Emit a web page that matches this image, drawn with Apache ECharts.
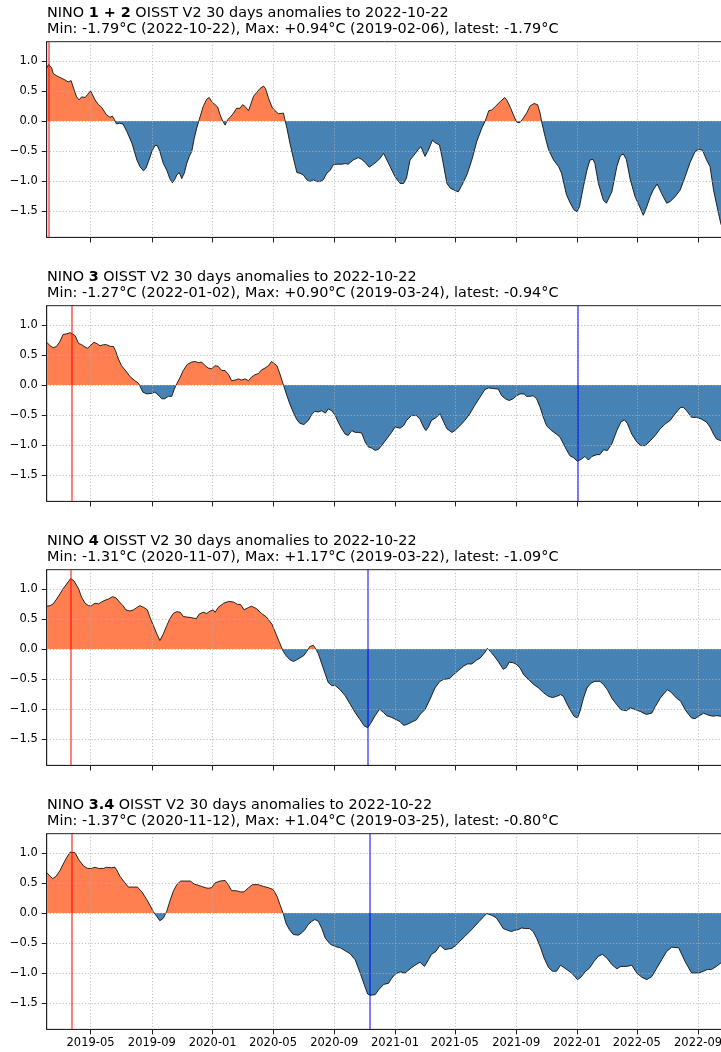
<!DOCTYPE html>
<html><head><meta charset="utf-8">
<script src="https://cdn.jsdelivr.net/npm/echarts@6/dist/echarts.min.js"></script>
<style>html,body{margin:0;padding:0;background:#fff}#c{width:721px;height:1052px}</style>
</head><body><div id="c"></div>
<script>
const xTicks = ['2019-05-01','2019-09-01','2020-01-01','2020-05-01','2020-09-01','2021-01-01','2021-05-01','2021-09-01','2022-01-01','2022-05-01','2022-09-01'];
const yTicks = [-1.5,-1.0,-0.5,0.0,0.5,1.0];
const xMin = '2019-02-02', xMax = '2022-10-22';
const yMin = -1.938, yMax = 1.318;

const regionNames = ['1 + 2','3','4','3.4'];
const minVals = [-1.79,-1.27,-1.31,-1.37];
const minDates = ['2022-10-22','2022-01-02','2020-11-07','2020-11-12'];
const maxVals = [0.94,0.90,1.17,1.04];
const maxDates = ['2019-02-06','2019-03-24','2019-03-22','2019-03-25'];
const latestVals = [-1.79,-0.94,-1.09,-0.80];

const nino12 = [['2019-02-02',0.88],['2019-02-06',0.94],['2019-02-09',0.93],['2019-02-12',0.88],['2019-02-15',0.79],['2019-02-22',0.75],['2019-03-04',0.71],['2019-03-11',0.68],['2019-03-17',0.65],['2019-03-21',0.68],['2019-03-23',0.67],['2019-03-28',0.54],['2019-04-03',0.40],['2019-04-08',0.35],['2019-04-13',0.40],['2019-04-20',0.39],['2019-04-25',0.44],['2019-05-01',0.50],['2019-05-05',0.47],['2019-05-10',0.35],['2019-05-17',0.27],['2019-05-23',0.23],['2019-06-02',0.10],['2019-06-09',0.06],['2019-06-14',0.08],['2019-06-18',0.02],['2019-06-22',-0.05],['2019-06-28',-0.04],['2019-07-05',-0.05],['2019-07-13',-0.18],['2019-07-23',-0.37],['2019-08-02',-0.65],['2019-08-08',-0.76],['2019-08-15',-0.83],['2019-08-20',-0.79],['2019-08-25',-0.68],['2019-09-01',-0.51],['2019-09-07',-0.41],['2019-09-12',-0.41],['2019-09-17',-0.51],['2019-09-24',-0.71],['2019-10-01',-0.82],['2019-10-07',-0.96],['2019-10-12',-1.03],['2019-10-18',-0.96],['2019-10-21',-0.90],['2019-10-26',-0.86],['2019-10-31',-0.96],['2019-11-05',-0.87],['2019-11-10',-0.71],['2019-11-15',-0.59],['2019-11-20',-0.51],['2019-11-25',-0.29],['2019-11-30',-0.12],['2019-12-05',0.02],['2019-12-13',0.24],['2019-12-20',0.36],['2019-12-25',0.39],['2019-12-30',0.32],['2020-01-06',0.27],['2020-01-11',0.23],['2020-01-16',0.10],['2020-01-21',0.00],['2020-01-26',-0.07],['2020-01-31',0.02],['2020-02-05',0.06],['2020-02-12',0.13],['2020-02-18',0.21],['2020-02-25',0.21],['2020-03-01',0.27],['2020-03-06',0.24],['2020-03-13',0.17],['2020-03-17',0.18],['2020-03-23',0.41],['2020-03-29',0.47],['2020-04-05',0.54],['2020-04-12',0.58],['2020-04-16',0.54],['2020-04-22',0.38],['2020-04-29',0.23],['2020-05-05',0.17],['2020-05-12',0.12],['2020-05-22',0.13],['2020-05-25',0.02],['2020-05-29',-0.12],['2020-06-04',-0.37],['2020-06-11',-0.62],['2020-06-18',-0.86],['2020-06-24',-0.87],['2020-07-01',-0.90],['2020-07-08',-0.98],['2020-07-14',-1.01],['2020-07-21',-0.98],['2020-07-28',-1.01],['2020-08-03',-1.01],['2020-08-10',-0.98],['2020-08-17',-0.87],['2020-08-24',-0.82],['2020-08-30',-0.73],['2020-09-07',-0.72],['2020-09-16',-0.72],['2020-09-23',-0.71],['2020-09-29',-0.72],['2020-10-09',-0.65],['2020-10-19',-0.61],['2020-10-26',-0.64],['2020-11-02',-0.69],['2020-11-10',-0.77],['2020-11-17',-0.73],['2020-11-25',-0.68],['2020-12-02',-0.62],['2020-12-09',-0.54],['2020-12-12',-0.59],['2020-12-22',-0.76],['2021-01-01',-0.93],['2021-01-11',-1.04],['2021-01-18',-1.04],['2021-01-24',-0.95],['2021-01-31',-0.65],['2021-02-07',-0.58],['2021-02-17',-0.47],['2021-02-22',-0.43],['2021-02-26',-0.51],['2021-03-02',-0.59],['2021-03-09',-0.48],['2021-03-17',-0.32],['2021-03-22',-0.36],['2021-03-31',-0.40],['2021-04-05',-0.59],['2021-04-15',-1.04],['2021-04-22',-1.12],['2021-05-02',-1.16],['2021-05-08',-1.18],['2021-05-15',-1.07],['2021-05-25',-0.90],['2021-06-04',-0.65],['2021-06-14',-0.34],['2021-06-24',-0.12],['2021-07-01',0.00],['2021-07-08',0.17],['2021-07-14',0.18],['2021-07-21',0.24],['2021-07-31',0.32],['2021-08-09',0.39],['2021-08-13',0.35],['2021-08-20',0.23],['2021-08-28',0.07],['2021-09-02',-0.02],['2021-09-08',-0.03],['2021-09-14',0.03],['2021-09-22',0.13],['2021-09-29',0.25],['2021-10-07',0.29],['2021-10-14',0.27],['2021-10-19',0.13],['2021-10-22',-0.01],['2021-10-29',-0.26],['2021-11-05',-0.48],['2021-11-15',-0.65],['2021-11-25',-0.76],['2021-12-01',-0.87],['2021-12-11',-1.23],['2021-12-18',-1.36],['2021-12-26',-1.48],['2022-01-01',-1.51],['2022-01-06',-1.43],['2022-01-14',-1.09],['2022-01-21',-0.82],['2022-01-27',-0.65],['2022-02-02',-0.64],['2022-02-06',-0.71],['2022-02-13',-1.04],['2022-02-23',-1.32],['2022-03-01',-1.37],['2022-03-05',-1.34],['2022-03-12',-1.18],['2022-03-22',-0.76],['2022-03-29',-0.58],['2022-04-04',-0.55],['2022-04-10',-0.64],['2022-04-18',-0.98],['2022-04-28',-1.27],['2022-05-08',-1.45],['2022-05-14',-1.57],['2022-05-21',-1.43],['2022-05-28',-1.26],['2022-06-03',-1.15],['2022-06-11',-1.05],['2022-06-20',-1.21],['2022-06-30',-1.37],['2022-07-07',-1.34],['2022-07-17',-1.26],['2022-07-27',-1.15],['2022-08-06',-0.93],['2022-08-16',-0.69],['2022-08-26',-0.51],['2022-09-02',-0.47],['2022-09-10',-0.49],['2022-09-18',-0.65],['2022-09-25',-0.76],['2022-10-02',-1.15],['2022-10-12',-1.54],['2022-10-17',-1.72],['2022-10-22',-1.79]];

const nino3 = [['2019-02-02',0.71],['2019-02-09',0.65],['2019-02-15',0.62],['2019-02-22',0.64],['2019-03-01',0.73],['2019-03-07',0.84],['2019-03-14',0.85],['2019-03-21',0.87],['2019-03-24',0.90],['2019-03-31',0.82],['2019-04-07',0.69],['2019-04-13',0.67],['2019-04-20',0.63],['2019-04-25',0.61],['2019-04-30',0.65],['2019-05-08',0.71],['2019-05-15',0.68],['2019-05-20',0.65],['2019-05-27',0.67],['2019-06-02',0.67],['2019-06-10',0.64],['2019-06-16',0.64],['2019-06-20',0.57],['2019-06-26',0.43],['2019-07-02',0.32],['2019-07-11',0.23],['2019-07-19',0.14],['2019-07-29',0.07],['2019-08-05',0.03],['2019-08-08',0.00],['2019-08-14',-0.12],['2019-08-22',-0.15],['2019-09-01',-0.14],['2019-09-07',-0.12],['2019-09-14',-0.17],['2019-09-21',-0.23],['2019-09-27',-0.23],['2019-10-04',-0.19],['2019-10-11',-0.19],['2019-10-16',-0.07],['2019-10-21',0.02],['2019-10-28',0.13],['2019-11-03',0.24],['2019-11-11',0.34],['2019-11-20',0.38],['2019-11-27',0.39],['2019-12-03',0.37],['2019-12-10',0.38],['2019-12-17',0.32],['2019-12-23',0.28],['2019-12-30',0.27],['2020-01-06',0.32],['2020-01-12',0.31],['2020-01-19',0.24],['2020-01-26',0.24],['2020-02-02',0.17],['2020-02-08',0.07],['2020-02-15',0.08],['2020-02-22',0.10],['2020-02-28',0.08],['2020-03-06',0.10],['2020-03-13',0.07],['2020-03-19',0.13],['2020-03-26',0.17],['2020-04-02',0.19],['2020-04-08',0.25],['2020-04-15',0.28],['2020-04-22',0.32],['2020-04-28',0.39],['2020-05-02',0.39],['2020-05-09',0.32],['2020-05-15',0.18],['2020-05-22',0.00],['2020-05-29',-0.18],['2020-06-04',-0.32],['2020-06-11',-0.46],['2020-06-18',-0.58],['2020-06-24',-0.64],['2020-07-02',-0.66],['2020-07-11',-0.59],['2020-07-18',-0.49],['2020-07-24',-0.44],['2020-07-31',-0.45],['2020-08-07',-0.43],['2020-08-14',-0.47],['2020-08-20',-0.40],['2020-08-27',-0.43],['2020-09-03',-0.51],['2020-09-09',-0.62],['2020-09-16',-0.73],['2020-09-23',-0.82],['2020-09-29',-0.84],['2020-10-06',-0.76],['2020-10-13',-0.79],['2020-10-19',-0.79],['2020-10-26',-0.80],['2020-11-02',-0.95],['2020-11-08',-1.03],['2020-11-15',-1.05],['2020-11-22',-1.09],['2020-11-29',-1.07],['2020-12-05',-1.01],['2020-12-15',-0.90],['2020-12-25',-0.79],['2021-01-01',-0.70],['2021-01-11',-0.72],['2021-01-18',-0.68],['2021-01-24',-0.59],['2021-02-03',-0.51],['2021-02-13',-0.51],['2021-02-20',-0.57],['2021-02-27',-0.70],['2021-03-04',-0.76],['2021-03-09',-0.70],['2021-03-15',-0.59],['2021-03-25',-0.54],['2021-04-01',-0.48],['2021-04-07',-0.59],['2021-04-15',-0.73],['2021-04-25',-0.79],['2021-05-01',-0.76],['2021-05-11',-0.68],['2021-05-21',-0.59],['2021-05-31',-0.48],['2021-06-10',-0.34],['2021-06-20',-0.21],['2021-06-30',-0.08],['2021-07-07',-0.05],['2021-07-17',-0.06],['2021-07-27',-0.07],['2021-08-03',-0.18],['2021-08-10',-0.23],['2021-08-18',-0.26],['2021-08-26',-0.23],['2021-09-02',-0.18],['2021-09-09',-0.15],['2021-09-17',-0.15],['2021-09-22',-0.19],['2021-09-29',-0.19],['2021-10-05',-0.18],['2021-10-12',-0.23],['2021-10-19',-0.37],['2021-10-26',-0.55],['2021-11-01',-0.68],['2021-11-11',-0.76],['2021-11-21',-0.82],['2021-11-28',-0.87],['2021-12-03',-0.95],['2021-12-11',-1.08],['2021-12-18',-1.18],['2021-12-25',-1.21],['2022-01-02',-1.27],['2022-01-11',-1.23],['2022-01-17',-1.19],['2022-01-24',-1.25],['2022-01-31',-1.19],['2022-02-10',-1.16],['2022-02-16',-1.16],['2022-02-23',-1.08],['2022-03-03',-1.09],['2022-03-12',-0.98],['2022-03-22',-0.76],['2022-03-30',-0.62],['2022-04-06',-0.58],['2022-04-12',-0.64],['2022-04-21',-0.82],['2022-05-01',-0.95],['2022-05-09',-1.01],['2022-05-18',-1.01],['2022-05-28',-0.93],['2022-06-07',-0.84],['2022-06-17',-0.73],['2022-06-27',-0.65],['2022-07-07',-0.59],['2022-07-17',-0.48],['2022-07-27',-0.38],['2022-08-02',-0.37],['2022-08-09',-0.43],['2022-08-19',-0.54],['2022-08-29',-0.54],['2022-09-08',-0.57],['2022-09-18',-0.62],['2022-09-25',-0.70],['2022-10-02',-0.82],['2022-10-08',-0.90],['2022-10-17',-0.93],['2022-10-22',-0.94]];

const nino4 = [['2019-02-02',0.71],['2019-02-09',0.72],['2019-02-15',0.75],['2019-02-22',0.83],['2019-03-01',0.92],['2019-03-07',1.00],['2019-03-14',1.08],['2019-03-22',1.17],['2019-03-29',1.13],['2019-04-07',1.00],['2019-04-13',0.86],['2019-04-20',0.76],['2019-04-27',0.72],['2019-05-03',0.72],['2019-05-10',0.76],['2019-05-17',0.75],['2019-05-23',0.78],['2019-05-30',0.81],['2019-06-06',0.83],['2019-06-14',0.87],['2019-06-21',0.85],['2019-06-28',0.78],['2019-07-05',0.72],['2019-07-11',0.65],['2019-07-19',0.63],['2019-07-26',0.65],['2019-08-02',0.69],['2019-08-08',0.72],['2019-08-16',0.69],['2019-08-23',0.65],['2019-08-28',0.53],['2019-09-04',0.39],['2019-09-11',0.25],['2019-09-17',0.14],['2019-09-24',0.25],['2019-10-01',0.39],['2019-10-07',0.50],['2019-10-14',0.59],['2019-10-21',0.62],['2019-10-28',0.61],['2019-11-03',0.54],['2019-11-10',0.53],['2019-11-20',0.52],['2019-11-29',0.50],['2019-12-05',0.58],['2019-12-13',0.61],['2019-12-20',0.59],['2019-12-27',0.63],['2020-01-02',0.65],['2020-01-06',0.61],['2020-01-12',0.69],['2020-01-23',0.76],['2020-02-02',0.79],['2020-02-12',0.78],['2020-02-20',0.74],['2020-02-26',0.74],['2020-03-04',0.65],['2020-03-13',0.69],['2020-03-19',0.71],['2020-03-29',0.67],['2020-04-08',0.59],['2020-04-18',0.53],['2020-04-29',0.41],['2020-05-07',0.25],['2020-05-14',0.11],['2020-05-21',-0.03],['2020-05-27',-0.11],['2020-06-04',-0.18],['2020-06-11',-0.21],['2020-06-18',-0.18],['2020-06-24',-0.15],['2020-07-02',-0.11],['2020-07-08',-0.04],['2020-07-14',0.04],['2020-07-21',0.06],['2020-07-26',0.00],['2020-07-31',-0.08],['2020-08-07',-0.25],['2020-08-14',-0.42],['2020-08-20',-0.56],['2020-08-27',-0.61],['2020-09-03',-0.61],['2020-09-13',-0.68],['2020-09-23',-0.78],['2020-10-03',-0.92],['2020-10-13',-1.06],['2020-10-23',-1.18],['2020-10-31',-1.28],['2020-11-07',-1.31],['2020-11-13',-1.24],['2020-11-22',-1.11],['2020-12-01',-1.00],['2020-12-09',-1.06],['2020-12-15',-1.11],['2020-12-25',-1.14],['2021-01-04',-1.18],['2021-01-11',-1.21],['2021-01-18',-1.27],['2021-01-24',-1.26],['2021-02-03',-1.22],['2021-02-13',-1.18],['2021-02-20',-1.09],['2021-03-02',-1.01],['2021-03-12',-0.84],['2021-03-22',-0.65],['2021-04-01',-0.54],['2021-04-08',-0.51],['2021-04-21',-0.49],['2021-04-28',-0.43],['2021-05-08',-0.36],['2021-05-18',-0.29],['2021-05-26',-0.25],['2021-06-04',-0.25],['2021-06-13',-0.19],['2021-06-21',-0.15],['2021-07-01',-0.05],['2021-07-05',0.01],['2021-07-11',-0.04],['2021-07-19',-0.12],['2021-07-27',-0.21],['2021-08-06',-0.34],['2021-08-12',-0.31],['2021-08-18',-0.22],['2021-08-26',-0.23],['2021-09-02',-0.26],['2021-09-09',-0.32],['2021-09-16',-0.43],['2021-09-26',-0.51],['2021-10-06',-0.59],['2021-10-16',-0.65],['2021-10-26',-0.73],['2021-11-05',-0.79],['2021-11-13',-0.81],['2021-11-21',-0.79],['2021-11-29',-0.76],['2021-12-05',-0.79],['2021-12-11',-0.90],['2021-12-18',-1.01],['2021-12-26',-1.12],['2022-01-02',-1.15],['2022-01-07',-1.04],['2022-01-14',-0.82],['2022-01-21',-0.65],['2022-01-29',-0.57],['2022-02-06',-0.54],['2022-02-16',-0.54],['2022-02-23',-0.59],['2022-03-03',-0.68],['2022-03-12',-0.82],['2022-03-22',-0.93],['2022-03-30',-1.01],['2022-04-10',-1.03],['2022-04-18',-0.98],['2022-04-28',-1.01],['2022-05-08',-1.04],['2022-05-20',-1.09],['2022-05-31',-1.07],['2022-06-07',-0.96],['2022-06-17',-0.82],['2022-06-27',-0.72],['2022-07-02',-0.68],['2022-07-10',-0.73],['2022-07-20',-0.82],['2022-07-28',-0.87],['2022-08-06',-1.01],['2022-08-13',-1.09],['2022-08-19',-1.15],['2022-08-26',-1.16],['2022-09-02',-1.12],['2022-09-12',-1.07],['2022-09-18',-1.09],['2022-09-25',-1.11],['2022-10-02',-1.12],['2022-10-08',-1.11],['2022-10-17',-1.12],['2022-10-22',-1.09]];

const nino34 = [['2019-02-02',0.67],['2019-02-07',0.63],['2019-02-14',0.57],['2019-02-21',0.61],['2019-03-01',0.71],['2019-03-07',0.81],['2019-03-14',0.92],['2019-03-21',1.01],['2019-03-25',1.04],['2019-03-31',1.00],['2019-04-07',0.89],['2019-04-17',0.78],['2019-04-25',0.74],['2019-05-03',0.74],['2019-05-10',0.76],['2019-05-17',0.74],['2019-05-27',0.74],['2019-06-02',0.76],['2019-06-12',0.75],['2019-06-19',0.76],['2019-06-22',0.72],['2019-06-29',0.61],['2019-07-07',0.52],['2019-07-16',0.43],['2019-07-26',0.43],['2019-08-03',0.43],['2019-08-12',0.35],['2019-08-22',0.22],['2019-08-28',0.13],['2019-09-04',0.02],['2019-09-11',-0.06],['2019-09-17',-0.13],['2019-09-24',-0.09],['2019-10-01',0.03],['2019-10-07',0.19],['2019-10-14',0.36],['2019-10-21',0.47],['2019-10-29',0.53],['2019-11-07',0.53],['2019-11-17',0.53],['2019-11-25',0.48],['2019-12-03',0.46],['2019-12-10',0.44],['2019-12-17',0.42],['2019-12-23',0.41],['2019-12-30',0.42],['2020-01-06',0.50],['2020-01-16',0.53],['2020-01-26',0.54],['2020-02-02',0.46],['2020-02-08',0.37],['2020-02-17',0.37],['2020-02-25',0.35],['2020-03-04',0.35],['2020-03-13',0.42],['2020-03-21',0.47],['2020-04-02',0.47],['2020-04-12',0.44],['2020-04-22',0.42],['2020-05-01',0.39],['2020-05-09',0.28],['2020-05-15',0.14],['2020-05-22',-0.02],['2020-05-27',-0.17],['2020-06-03',-0.28],['2020-06-11',-0.36],['2020-06-21',-0.37],['2020-06-28',-0.33],['2020-07-04',-0.28],['2020-07-11',-0.19],['2020-07-18',-0.14],['2020-07-24',-0.11],['2020-07-31',-0.14],['2020-08-07',-0.26],['2020-08-14',-0.42],['2020-08-24',-0.52],['2020-09-03',-0.56],['2020-09-13',-0.58],['2020-09-23',-0.63],['2020-10-03',-0.68],['2020-10-13',-0.78],['2020-10-23',-1.00],['2020-10-31',-1.19],['2020-11-07',-1.35],['2020-11-12',-1.37],['2020-11-22',-1.36],['2020-11-29',-1.28],['2020-12-09',-1.19],['2020-12-19',-1.17],['2020-12-25',-1.09],['2021-01-01',-1.02],['2021-01-11',-0.98],['2021-01-21',-1.00],['2021-01-31',-0.93],['2021-02-10',-0.87],['2021-02-20',-0.82],['2021-03-01',-0.89],['2021-03-09',-0.78],['2021-03-15',-0.69],['2021-03-24',-0.64],['2021-04-01',-0.54],['2021-04-11',-0.61],['2021-04-25',-0.59],['2021-05-03',-0.54],['2021-05-11',-0.47],['2021-05-21',-0.39],['2021-05-31',-0.31],['2021-06-10',-0.22],['2021-06-19',-0.14],['2021-06-27',-0.07],['2021-07-04',-0.01],['2021-07-14',-0.04],['2021-07-23',-0.08],['2021-07-31',-0.18],['2021-08-06',-0.26],['2021-08-15',-0.29],['2021-08-23',-0.31],['2021-08-28',-0.29],['2021-09-05',-0.28],['2021-09-12',-0.25],['2021-09-19',-0.26],['2021-09-28',-0.26],['2021-10-05',-0.31],['2021-10-12',-0.42],['2021-10-20',-0.58],['2021-10-27',-0.75],['2021-11-05',-0.91],['2021-11-13',-0.97],['2021-11-21',-0.97],['2021-11-29',-0.87],['2021-12-08',-0.92],['2021-12-18',-0.98],['2021-12-26',-1.04],['2022-01-02',-1.11],['2022-01-09',-1.07],['2022-01-17',-0.98],['2022-01-26',-0.92],['2022-02-04',-0.81],['2022-02-13',-0.72],['2022-02-21',-0.69],['2022-03-02',-0.75],['2022-03-12',-0.86],['2022-03-22',-0.93],['2022-03-30',-0.89],['2022-04-11',-0.89],['2022-04-21',-0.87],['2022-05-01',-1.00],['2022-05-11',-1.07],['2022-05-21',-1.11],['2022-05-31',-1.06],['2022-06-10',-0.92],['2022-06-20',-0.78],['2022-06-30',-0.64],['2022-07-10',-0.57],['2022-07-24',-0.58],['2022-08-06',-0.81],['2022-08-19',-1.00],['2022-09-02',-1.00],['2022-09-12',-0.97],['2022-09-20',-0.94],['2022-09-28',-0.94],['2022-10-08',-0.89],['2022-10-17',-0.83],['2022-10-22',-0.80]];

const seriesData = [nino12, nino3, nino4, nino34];

const FONT = 'DejaVu Sans';
const POS = '#ff7f50', NEG = '#4682b4';
const gridLeft = 46.7, gridWidth = 676.8, gridTop0 = 41.7, gridH = 195.7, panelStep = 264;

const t = s => Date.parse(s + 'T00:00:00Z');
function fmtX(v) {
  const d = new Date(v);
  return d.getUTCFullYear() + '-' + String(d.getUTCMonth() + 1).padStart(2, '0');
}
function fmtY(v) {
  const r = Math.round(v * 10) / 10;
  return (r < 0 ? '\u2212' : '') + Math.abs(r).toFixed(1);
}
function signed(v) { return (v > 0 ? '+' : '') + v.toFixed(2); }

const xTickVals = xTicks.map(t);
const grid = [], xAxis = [], yAxis = [], series = [], title = [], visualMap = [];
const splitStyle = { type: [1.2, 2], color: '#b0b0b0', width: 0.8 };
for (let i = 0; i < 4; i++) {
  const top = gridTop0 + panelStep * i;
  grid.push({ left: gridLeft, width: gridWidth, top: top, height: gridH, outerBoundsMode: 'none', containLabel: false, show: true, borderColor: '#222', borderWidth: 1, backgroundColor: 'transparent' });
  title.push({
    left: 47, top: 4.5 + panelStep * i, padding: 0,
    text: '{n|NINO }{b|' + regionNames[i] + '}{n| OISST V2 30 days anomalies to 2022-10-22}\n{n|Min: ' + signed(minVals[i]) + '°C (' + minDates[i] + '), Max: ' + signed(maxVals[i]) + '°C (' + maxDates[i] + '), latest: ' + signed(latestVals[i]) + '°C}',
    textStyle: { fontFamily: FONT, fontWeight: 'normal', fontSize: 14.4, rich: {
      n: { fontFamily: FONT, fontSize: 14.4, lineHeight: 16.7, color: '#000', fontWeight: 'normal' },
      b: { fontFamily: FONT, fontSize: 14.4, lineHeight: 16.7, color: '#000', fontWeight: 'bold' }
    } }
  });
  xAxis.push({
    type: 'value', gridIndex: i, min: t(xMin), max: t(xMax), z: 3,
    axisLine: { show: true, onZero: false, lineStyle: { color: '#222', width: 1 } },
    axisTick: { show: true, customValues: xTickVals, length: 5, lineStyle: { color: '#222', width: 1 } },
    axisLabel: { show: i === 3, customValues: xTickVals, formatter: fmtX, fontFamily: FONT, fontSize: 11.5, color: '#000', margin: 8, hideOverlap: false },
    splitLine: { show: true, lineStyle: splitStyle }
  });
  yAxis.push({
    type: 'value', gridIndex: i, min: yMin, max: yMax, z: 3,
    axisLine: { show: true, onZero: false, lineStyle: { color: '#222', width: 1 } },
    axisTick: { show: true, customValues: yTicks, length: 5, lineStyle: { color: '#222', width: 1 } },
    axisLabel: { customValues: yTicks, formatter: fmtY, fontFamily: FONT, fontSize: 11.5, color: '#000', margin: 9 },
    splitLine: { show: true, lineStyle: splitStyle }
  });
  series.push({
    type: 'line', xAxisIndex: i, yAxisIndex: i,
    data: seriesData[i].map(p => [t(p[0]), p[1]]),
    showSymbol: false, symbol: 'none', z: 2,
    lineStyle: { color: '#111', width: 0.9 },
    areaStyle: { opacity: 1 },
    markLine: {
      silent: true, symbol: ['none', 'none'], label: { show: false }, animation: false,
      data: [
        { xAxis: t(maxDates[i]), lineStyle: { color: 'rgba(255,0,0,0.5)', width: 2, type: 'solid' } },
        { xAxis: t(minDates[i]), lineStyle: { color: 'rgba(0,0,255,0.5)', width: 2, type: 'solid' } }
      ]
    }
  });
  visualMap.push({
    type: 'piecewise', show: false, seriesIndex: i, dimension: 1,
    pieces: [{ min: -5, max: 0, color: NEG }, { gt: 0, lte: 5, color: POS }],
    outOfRange: { color: NEG }
  });
}

const chart = echarts.init(document.getElementById('c'), null, { renderer: 'canvas' });
chart.setOption({ animation: false, backgroundColor: '#fff', title, grid, xAxis, yAxis, series, visualMap });
</script>
</body></html>
